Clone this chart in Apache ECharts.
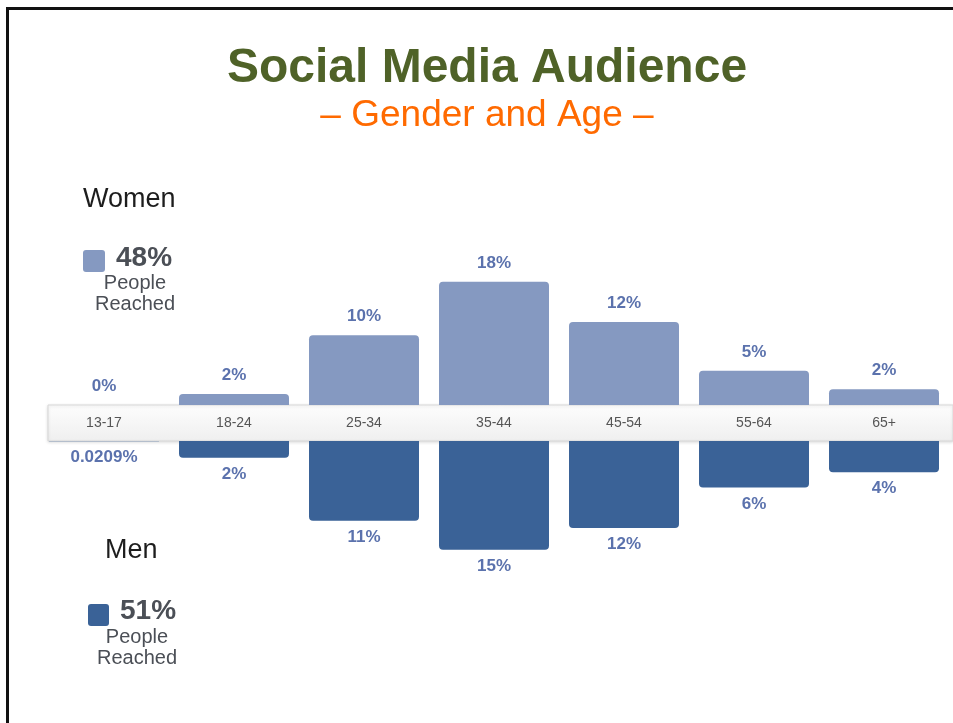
<!DOCTYPE html>
<html>
<head>
<meta charset="utf-8">
<script src="https://cdn.jsdelivr.net/npm/echarts@6/dist/echarts.min.js"></script>
<style>
  html, body { margin: 0; padding: 0; background: #fff; }
  #chart { width: 953px; height: 723px; }
</style>
</head>
<body>
<div id="chart"></div>
<script>
// age groups and share of people reached (%)
const ageGroups = ['13-17', '18-24', '25-34', '35-44', '45-54', '55-64', '65+'];
const women = [0, 1.6, 10.2, 18, 12.1, 5, 2.3];
const men = [0.0209, 2.3, 11, 15, 12, 6.4, 4.3];
const totals = { women: 48, men: 51 };

const womenColor = '#8599c1';
const menColor = '#3a6297';
const labelColor = '#5b72ad';
const font = '"Liberation Sans", Arial, sans-serif';

const fmt = p => (p.value < 0.1 ? p.value : Math.round(p.value)) + '%';

const chart = echarts.init(document.getElementById('chart'));

const option = {
  backgroundColor: '#fff',
  animation: false,
  title: [
    {
      text: 'Social Media Audience',
      left: 482, textAlign: 'center', top: 40,
      textStyle: { color: '#4f6228', fontSize: 48, fontWeight: 'bold', fontFamily: font }
    },
    {
      text: '– Gender and Age –',
      left: 482, textAlign: 'center', top: 92,
      textStyle: { color: '#ff6a00', fontSize: 37, fontWeight: 'normal', fontFamily: font }
    }
  ],
  grid: [
    { left: 39, right: 4, top: 268, height: 137 },
    { left: 39, right: 4, top: 441, height: 116 }
  ],
  xAxis: [
    {
      gridIndex: 0, type: 'category', data: ageGroups, position: 'bottom',
      axisLine: { show: false }, axisTick: { show: false },
      axisLabel: { margin: 11, color: '#555', fontSize: 14, fontFamily: font }
    },
    {
      gridIndex: 1, type: 'category', data: ageGroups, position: 'top',
      axisLine: { show: false }, axisTick: { show: false }, axisLabel: { show: false }
    }
  ],
  yAxis: [
    { gridIndex: 0, type: 'value', min: 0, max: 20, show: false, splitLine: { show: false } },
    { gridIndex: 1, type: 'value', min: 0, max: 16, inverse: true, show: false, splitLine: { show: false } }
  ],
  series: [
    {
      name: 'Women', type: 'bar', xAxisIndex: 0, yAxisIndex: 0, data: women,
      barWidth: 110,
      itemStyle: { color: womenColor, borderRadius: [4, 4, 0, 0] },
      label: {
        show: true, position: 'top', distance: 10, formatter: fmt,
        color: labelColor, fontSize: 17, fontWeight: 'bold', fontFamily: font
      }
    },
    {
      name: 'Men', type: 'bar', xAxisIndex: 1, yAxisIndex: 1, data: men,
      barWidth: 110,
      itemStyle: { color: menColor, borderRadius: [0, 0, 4, 4] },
      label: {
        show: true, position: 'bottom', distance: 8, formatter: fmt,
        color: labelColor, fontSize: 17, fontWeight: 'bold', fontFamily: font
      }
    }
  ],
  graphic: [
    // frame lines
    { type: 'rect', shape: { x: 6, y: 7, width: 947, height: 3 }, style: { fill: '#111' } },
    { type: 'rect', shape: { x: 6, y: 7, width: 3, height: 716 }, style: { fill: '#111' } },
    // age band behind the axis labels
    {
      type: 'rect', z: -1,
      shape: { x: 48, y: 405, width: 905, height: 36 },
      style: {
        fill: new echarts.graphic.LinearGradient(0, 0, 0, 1, [
          { offset: 0, color: '#fdfdfd' },
          { offset: 1, color: '#efefef' }
        ]),
        stroke: '#d8d8d8', lineWidth: 1,
        shadowColor: 'rgba(0,0,0,0.12)', shadowBlur: 3, shadowOffsetY: 1
      }
    },
    // women side legend
    { type: 'text', left: 83, top: 186, style: { text: 'Women', fill: '#1d1d1d', fontSize: 27, fontFamily: font } },
    { type: 'rect', shape: { x: 83, y: 250, width: 22, height: 22, r: 3 }, style: { fill: womenColor } },
    { type: 'text', left: 116, top: 244, style: { text: totals.women + '%', fill: '#4b4f56', fontSize: 28, fontWeight: 'bold', fontFamily: font } },
    { type: 'text', x: 135, y: 273, style: { text: 'People\nReached', fill: '#4b4f56', fontSize: 20, lineHeight: 21, align: 'center', fontFamily: font } },
    // men side legend
    { type: 'text', left: 105, top: 537, style: { text: 'Men', fill: '#1d1d1d', fontSize: 27, fontFamily: font } },
    { type: 'rect', shape: { x: 88, y: 604, width: 21, height: 22, r: 3 }, style: { fill: menColor } },
    { type: 'text', left: 120, top: 597, style: { text: totals.men + '%', fill: '#4b4f56', fontSize: 28, fontWeight: 'bold', fontFamily: font } },
    { type: 'text', x: 137, y: 627, style: { text: 'People\nReached', fill: '#4b4f56', fontSize: 20, lineHeight: 21, align: 'center', fontFamily: font } }
  ]
};

chart.setOption(option);
</script>
</body>
</html>
